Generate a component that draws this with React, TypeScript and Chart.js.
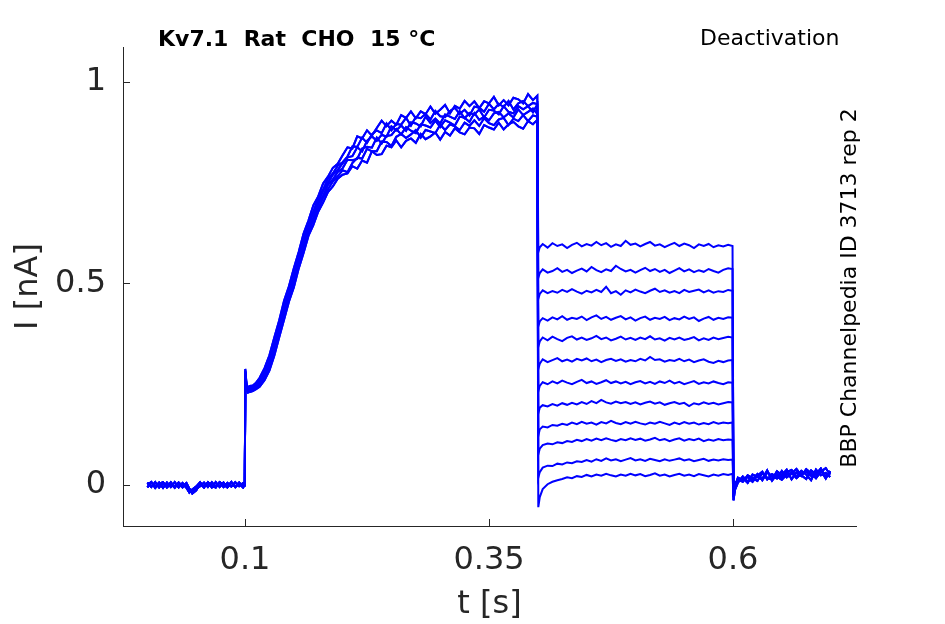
import { useEffect, useRef } from 'react';
import Chart from 'chart.js/auto';

// holding baseline, 0 .. 0.1 s (three noise variants)
const baseT = [0, 0.004, 0.008, 0.012, 0.016, 0.02, 0.024, 0.028, 0.032, 0.036, 0.04, 0.043, 0.046, 0.05, 0.054, 0.058, 0.062, 0.066, 0.07, 0.074, 0.078, 0.082, 0.086, 0.09, 0.094, 0.098, 0.0998];
const baseA = [0.006, -0.005, 0.007, -0.006, 0.005, -0.004, 0.007, -0.005, 0.004, -0.006, 0.002, -0.013, -0.017, -0.009, -0.003, 0.006, -0.005, 0.007, -0.004, 0.006, -0.005, 0.005, -0.004, 0.007, -0.003, 0.005, 0.001];
const baseB = [-0.006, 0.007, -0.004, 0.006, -0.007, 0.006, -0.005, 0.007, -0.006, 0.005, -0.007, -0.019, -0.011, -0.004, 0.007, -0.005, 0.006, -0.006, 0.007, -0.005, 0.006, -0.006, 0.007, -0.005, 0.006, -0.005, -0.001];
const baseC = [0.002, 0.007, -0.007, 0.003, 0.007, -0.006, 0.003, -0.007, 0.006, -0.003, 0.005, -0.009, -0.021, -0.013, 0.003, -0.006, 0.007, -0.002, -0.006, 0.007, 0.001, -0.006, 0.007, -0.005, 0.003, -0.006, 0.002];

// activation step, 0.1 .. 0.4 s (six variants, high to low plateau)
const actT = [
  0.1003, 0.1015, 0.103, 0.105, 0.108, 0.111, 0.115, 0.12, 0.125, 0.13, 0.135, 0.14, 0.145, 0.15, 0.155, 0.16, 0.165, 0.17, 0.175, 0.18, 0.185, 0.19, 0.195, 0.2,
  0.205, 0.21, 0.215, 0.22, 0.225, 0.23, 0.235, 0.24, 0.245, 0.25, 0.255, 0.26, 0.265, 0.27, 0.275, 0.28, 0.285, 0.29, 0.295, 0.3,
  0.305, 0.31, 0.315, 0.32, 0.325, 0.33, 0.335, 0.34, 0.345, 0.35, 0.355, 0.36, 0.365, 0.37, 0.375, 0.38, 0.385, 0.39, 0.395, 0.3995,
];
const act1 = [
  0.288, 0.252, 0.242, 0.246, 0.247, 0.253, 0.266, 0.29, 0.322, 0.366, 0.408, 0.457, 0.493, 0.538, 0.578, 0.624, 0.656, 0.694, 0.716, 0.748, 0.765, 0.787, 0.797, 0.818,
  0.838, 0.835, 0.865, 0.86, 0.88, 0.867, 0.886, 0.904, 0.89, 0.904, 0.894, 0.918, 0.911, 0.927, 0.91, 0.927, 0.92, 0.939, 0.921, 0.931,
  0.943, 0.922, 0.941, 0.934, 0.953, 0.94, 0.952, 0.935, 0.952, 0.947, 0.963, 0.942, 0.955, 0.942, 0.961, 0.957, 0.947, 0.97, 0.955, 0.966,
];
const act2 = [
  0.284, 0.25, 0.238, 0.242, 0.245, 0.249, 0.26, 0.283, 0.314, 0.354, 0.402, 0.444, 0.487, 0.524, 0.572, 0.609, 0.652, 0.678, 0.712, 0.733, 0.76, 0.773, 0.792, 0.801,
  0.815, 0.84, 0.839, 0.862, 0.849, 0.87, 0.88, 0.873, 0.897, 0.88, 0.896, 0.894, 0.911, 0.892, 0.913, 0.91, 0.921, 0.907, 0.928, 0.915,
  0.913, 0.928, 0.936, 0.921, 0.931, 0.917, 0.939, 0.936, 0.926, 0.946, 0.932, 0.946, 0.938, 0.953, 0.932, 0.947, 0.953, 0.94, 0.948, 0.945,
];
const act3 = [
  0.281, 0.246, 0.236, 0.239, 0.242, 0.246, 0.257, 0.277, 0.308, 0.348, 0.393, 0.439, 0.477, 0.519, 0.562, 0.604, 0.642, 0.675, 0.702, 0.73, 0.75, 0.77, 0.782, 0.798,
  0.813, 0.816, 0.838, 0.828, 0.854, 0.865, 0.854, 0.869, 0.864, 0.89, 0.88, 0.892, 0.879, 0.9, 0.897, 0.89, 0.914, 0.898, 0.909, 0.897,
  0.919, 0.914, 0.908, 0.927, 0.91, 0.923, 0.919, 0.932, 0.912, 0.931, 0.929, 0.92, 0.94, 0.926, 0.922, 0.94, 0.932, 0.94, 0.925, 0.944,
];
const act4 = [
  0.279, 0.243, 0.234, 0.236, 0.238, 0.243, 0.252, 0.27, 0.3, 0.338, 0.386, 0.428, 0.471, 0.508, 0.556, 0.594, 0.636, 0.663, 0.697, 0.718, 0.745, 0.758, 0.777, 0.786,
  0.807, 0.806, 0.809, 0.835, 0.839, 0.837, 0.862, 0.847, 0.866, 0.868, 0.883, 0.87, 0.888, 0.879, 0.873, 0.895, 0.892, 0.887, 0.904, 0.888,
  0.905, 0.899, 0.892, 0.914, 0.911, 0.901, 0.923, 0.906, 0.914, 0.905, 0.922, 0.926, 0.912, 0.922, 0.912, 0.932, 0.918, 0.926, 0.934, 0.921,
];
const act5 = [
  0.277, 0.241, 0.232, 0.234, 0.236, 0.24, 0.248, 0.265, 0.292, 0.33, 0.376, 0.42, 0.463, 0.5, 0.546, 0.586, 0.626, 0.657, 0.686, 0.713, 0.734, 0.753, 0.766, 0.781,
  0.776, 0.799, 0.812, 0.81, 0.834, 0.828, 0.828, 0.852, 0.851, 0.841, 0.864, 0.871, 0.861, 0.87, 0.881, 0.862, 0.881, 0.877, 0.873, 0.894,
  0.881, 0.895, 0.89, 0.881, 0.899, 0.891, 0.905, 0.891, 0.91, 0.898, 0.893, 0.907, 0.911, 0.893, 0.909, 0.903, 0.918, 0.903, 0.917, 0.914,
];
const act6 = [
  0.275, 0.238, 0.229, 0.231, 0.233, 0.237, 0.244, 0.26, 0.284, 0.321, 0.366, 0.41, 0.455, 0.49, 0.537, 0.576, 0.618, 0.645, 0.678, 0.701, 0.727, 0.741, 0.76, 0.77,
  0.773, 0.791, 0.785, 0.805, 0.8, 0.828, 0.819, 0.821, 0.842, 0.838, 0.855, 0.838, 0.854, 0.86, 0.849, 0.871, 0.858, 0.865, 0.875, 0.857,
  0.876, 0.867, 0.885, 0.875, 0.87, 0.887, 0.885, 0.871, 0.893, 0.887, 0.882, 0.899, 0.882, 0.895, 0.901, 0.89, 0.884, 0.903, 0.895, 0.906,
];

// deactivation tails, 0.4 .. 0.6 s, top trace first
const tailT = [
  0.4005, 0.402, 0.405, 0.41, 0.415, 0.42, 0.425, 0.43, 0.435, 0.44, 0.445, 0.45, 0.455, 0.46, 0.465, 0.47, 0.475, 0.48, 0.485, 0.49, 0.495,
  0.5, 0.505, 0.51, 0.515, 0.52, 0.525, 0.53, 0.535, 0.54, 0.545, 0.55, 0.555, 0.56, 0.565, 0.57, 0.575, 0.58, 0.585, 0.59, 0.595, 0.5995,
];
const tail1 = [0.578, 0.59, 0.598, 0.589, 0.6, 0.593, 0.597, 0.588, 0.596, 0.601, 0.592, 0.598, 0.594, 0.603, 0.595, 0.6, 0.591, 0.597, 0.593, 0.606, 0.596, 0.599, 0.592, 0.598, 0.603, 0.594, 0.597, 0.59, 0.596, 0.601, 0.593, 0.599, 0.595, 0.588, 0.597, 0.593, 0.598, 0.59, 0.595, 0.592, 0.596, 0.593];
const tail2 = [0.514, 0.526, 0.535, 0.527, 0.531, 0.538, 0.529, 0.534, 0.526, 0.532, 0.537, 0.53, 0.541, 0.533, 0.528, 0.535, 0.531, 0.544, 0.536, 0.53, 0.534, 0.527, 0.533, 0.539, 0.531, 0.536, 0.529, 0.534, 0.526, 0.532, 0.538, 0.53, 0.535, 0.528, 0.533, 0.529, 0.536, 0.531, 0.527, 0.534, 0.538, 0.536];
const tail3 = [0.462, 0.474, 0.483, 0.476, 0.481, 0.477, 0.484, 0.479, 0.486, 0.48, 0.475, 0.482, 0.478, 0.484, 0.479, 0.492, 0.476, 0.481, 0.472, 0.483, 0.478, 0.485, 0.48, 0.476, 0.482, 0.487, 0.479, 0.483, 0.477, 0.481, 0.476, 0.484, 0.479, 0.482, 0.485, 0.478, 0.483, 0.477, 0.481, 0.479, 0.484, 0.482];
const tail4 = [0.394, 0.406, 0.414, 0.408, 0.416, 0.411, 0.419, 0.41, 0.415, 0.412, 0.418, 0.409, 0.416, 0.421, 0.412, 0.417, 0.41, 0.415, 0.419, 0.411, 0.416, 0.408, 0.414, 0.418, 0.41, 0.415, 0.412, 0.417, 0.409, 0.414, 0.411, 0.418, 0.412, 0.416, 0.407, 0.413, 0.417, 0.41, 0.415, 0.412, 0.416, 0.415];
const tail5 = [0.343, 0.356, 0.366, 0.359, 0.368, 0.362, 0.357, 0.365, 0.369, 0.361, 0.366, 0.36, 0.364, 0.37, 0.362, 0.366, 0.359, 0.363, 0.368, 0.361, 0.365, 0.36, 0.366, 0.362, 0.369, 0.361, 0.364, 0.358, 0.365, 0.361, 0.366, 0.36, 0.363, 0.367, 0.359, 0.364, 0.36, 0.366, 0.362, 0.365, 0.368, 0.366];
const tail6 = [0.288, 0.301, 0.312, 0.305, 0.31, 0.315, 0.307, 0.311, 0.306, 0.313, 0.309, 0.314, 0.307, 0.311, 0.305, 0.31, 0.313, 0.308, 0.312, 0.306, 0.31, 0.307, 0.313, 0.309, 0.318, 0.31, 0.312, 0.306, 0.31, 0.308, 0.313, 0.307, 0.311, 0.305, 0.309, 0.312, 0.306, 0.303, 0.308, 0.305, 0.309, 0.31];
const tail7 = [0.232, 0.246, 0.255, 0.25, 0.257, 0.252, 0.259, 0.254, 0.25, 0.256, 0.261, 0.253, 0.257, 0.251, 0.255, 0.26, 0.253, 0.257, 0.252, 0.256, 0.25, 0.255, 0.258, 0.252, 0.256, 0.251, 0.257, 0.253, 0.259, 0.252, 0.256, 0.25, 0.254, 0.258, 0.251, 0.255, 0.252, 0.257, 0.253, 0.25, 0.255, 0.254];
const tail8 = [0.178, 0.192, 0.198, 0.195, 0.201, 0.197, 0.203, 0.199, 0.204, 0.2, 0.206, 0.201, 0.208, 0.203, 0.211, 0.205, 0.202, 0.207, 0.203, 0.206, 0.201, 0.205, 0.2, 0.204, 0.207, 0.202, 0.205, 0.199, 0.203, 0.206, 0.201, 0.204, 0.196, 0.203, 0.2, 0.205, 0.201, 0.204, 0.2, 0.203, 0.206, 0.205];
const tail9 = [0.122, 0.138, 0.145, 0.143, 0.149, 0.147, 0.152, 0.149, 0.155, 0.151, 0.157, 0.152, 0.155, 0.15, 0.156, 0.153, 0.159, 0.154, 0.151, 0.156, 0.152, 0.157, 0.153, 0.15, 0.155, 0.152, 0.157, 0.153, 0.149, 0.155, 0.151, 0.156, 0.152, 0.155, 0.15, 0.154, 0.151, 0.156, 0.152, 0.155, 0.153, 0.155];
const tail10 = [0.076, 0.09, 0.099, 0.103, 0.101, 0.106, 0.104, 0.109, 0.107, 0.112, 0.109, 0.114, 0.11, 0.115, 0.111, 0.116, 0.112, 0.109, 0.114, 0.111, 0.116, 0.112, 0.115, 0.11, 0.113, 0.117, 0.111, 0.114, 0.109, 0.113, 0.116, 0.11, 0.114, 0.111, 0.115, 0.109, 0.113, 0.11, 0.114, 0.111, 0.113, 0.112];
const tail11 = [0.018, 0.032, 0.043, 0.048, 0.047, 0.053, 0.051, 0.056, 0.054, 0.059, 0.057, 0.062, 0.058, 0.064, 0.06, 0.066, 0.061, 0.064, 0.059, 0.063, 0.067, 0.061, 0.064, 0.06, 0.065, 0.062, 0.059, 0.064, 0.06, 0.063, 0.066, 0.061, 0.064, 0.059, 0.062, 0.065, 0.06, 0.063, 0.061, 0.064, 0.062, 0.063];
const tail12 = [-0.055, -0.03, -0.01, 0.002, 0.008, 0.012, 0.015, 0.019, 0.017, 0.022, 0.02, 0.025, 0.021, 0.026, 0.023, 0.028, 0.024, 0.021, 0.026, 0.023, 0.028, 0.024, 0.027, 0.022, 0.025, 0.029, 0.023, 0.026, 0.021, 0.025, 0.028, 0.023, 0.026, 0.022, 0.027, 0.024, 0.021, 0.026, 0.023, 0.027, 0.025, 0.028];

// after the test pulse, 0.6 .. 0.7 s (four variants)
const postT = [0.6005, 0.602, 0.605, 0.61, 0.615, 0.62, 0.625, 0.63, 0.635, 0.64, 0.645, 0.65, 0.655, 0.66, 0.665, 0.67, 0.675, 0.68, 0.685, 0.69, 0.695, 0.6995];
const postA = [-0.038, -0.012, 0.006, 0.021, 0.009, 0.014, 0.027, 0.012, 0.031, 0.022, 0.016, 0.035, 0.019, 0.028, 0.04, 0.024, 0.015, 0.036, 0.027, 0.041, 0.02, 0.033];
const postB = [-0.025, 0, 0.014, 0.008, 0.024, 0.017, 0.01, 0.029, 0.018, 0.013, 0.034, 0.025, 0.038, 0.014, 0.031, 0.022, 0.039, 0.029, 0.017, 0.033, 0.042, 0.026];
const postC = [-0.015, 0.006, 0.011, 0.017, 0.005, 0.026, 0.02, 0.015, 0.036, 0.011, 0.027, 0.019, 0.032, 0.037, 0.02, 0.035, 0.026, 0.012, 0.038, 0.024, 0.03, 0.02];
const postD = [-0.03, -0.004, 0.018, 0.012, 0.02, 0.008, 0.023, 0.033, 0.014, 0.027, 0.021, 0.013, 0.026, 0.03, 0.017, 0.028, 0.034, 0.023, 0.021, 0.036, 0.016, 0.035];

const xTicks = [0.1, 0.35, 0.6];
const yTicks = [0, 0.5, 1];

const title = 'Kv7.1  Rat  CHO  15 °C';
const protocol = 'Deactivation';
const sourceLabel = 'BBP Channelpedia ID 3713 rep 2';

const bases = [baseA, baseB, baseC];
const acts = [act1, act2, act3, act4, act5, act6];
const tails = [tail1, tail2, tail3, tail4, tail5, tail6, tail7, tail8, tail9, tail10, tail11, tail12];
const posts = [postA, postB, postC, postD];

const FONT = "'DejaVu Sans', sans-serif";
const AXIS = '#262626';

function zipPoints(ts: number[], vs: number[]) {
  return ts.map((t, i) => ({ x: t, y: vs[i] }));
}

const textPlugin = {
  id: 'sweepText',
  afterDraw(chart: Chart) {
    const { ctx, scales } = chart;
    const x = scales.x;
    const y = scales.y;
    ctx.save();
    // inward tick marks
    ctx.strokeStyle = AXIS;
    ctx.lineWidth = 1;
    ctx.beginPath();
    xTicks.forEach((v) => {
      const px = Math.round(x.getPixelForValue(v)) + 0.5;
      ctx.moveTo(px, y.bottom);
      ctx.lineTo(px, y.bottom - 7);
    });
    yTicks.forEach((v) => {
      const py = Math.round(y.getPixelForValue(v)) + 0.5;
      ctx.moveTo(x.left, py);
      ctx.lineTo(x.left + 7, py);
    });
    ctx.stroke();

    ctx.fillStyle = '#000';
    ctx.textBaseline = 'middle';
    ctx.textAlign = 'left';
    ctx.font = `bold 22px ${FONT}`;
    ctx.fillText(title, 158, 40);
    ctx.font = `22px ${FONT}`;
    ctx.fillText(protocol, 700, 39);

    ctx.translate(850, 288);
    ctx.rotate(-Math.PI / 2);
    ctx.textAlign = 'center';
    ctx.fillText(sourceLabel, 0, 0);
    ctx.restore();
  },
};

export default function App() {
  const canvasRef = useRef<HTMLCanvasElement | null>(null);

  useEffect(() => {
    const canvas = canvasRef.current;
    if (!canvas) return;

    const datasets = tails.map((tail, i) => ({
      data: [
        ...zipPoints(baseT, bases[i % 3]),
        ...zipPoints(actT, acts[i % 6]),
        ...zipPoints(tailT, tail),
        ...zipPoints(postT, posts[i % 4]),
      ],
      borderColor: '#0000ff',
      borderWidth: 2,
      pointRadius: 0,
      fill: false,
      tension: 0,
    }));

    const tickFont = { family: FONT, size: 32 };

    const chart = new Chart(canvas, {
      type: 'line',
      data: { datasets },
      options: {
        animation: false,
        responsive: true,
        maintainAspectRatio: false,
        layout: { padding: { top: 47, right: 89, left: 0, bottom: 0 } },
        plugins: {
          legend: { display: false },
          tooltip: { enabled: false },
        },
        scales: {
          x: {
            type: 'linear',
            min: -0.025,
            max: 0.726,
            afterBuildTicks: (s) => {
              s.ticks = xTicks.map((v) => ({ value: v }));
            },
            afterFit: (s) => {
              s.height = 98;
            },
            grid: { display: false, drawTicks: false },
            border: { display: true, color: AXIS, width: 1 },
            ticks: {
              font: tickFont,
              color: AXIS,
              padding: 15,
              maxRotation: 0,
              autoSkip: false,
              callback: (v) => String(v),
            },
            title: {
              display: true,
              text: 't [s]',
              font: tickFont,
              color: AXIS,
              padding: { top: 0, bottom: 0 },
            },
          },
          y: {
            type: 'linear',
            min: -0.1017,
            max: 1.0868,
            afterBuildTicks: (s) => {
              s.ticks = yTicks.map((v) => ({ value: v }));
            },
            afterFit: (s) => {
              s.width = 123;
            },
            grid: { display: false, drawTicks: false },
            border: { display: true, color: AXIS, width: 1 },
            ticks: {
              font: tickFont,
              color: AXIS,
              padding: 17,
              autoSkip: false,
              callback: (v) => String(v),
            },
            title: {
              display: true,
              text: 'I [nA]',
              font: tickFont,
              color: AXIS,
              padding: { top: 9, bottom: 0 },
            },
          },
        },
      },
      plugins: [textPlugin],
    });

    return () => {
      chart.destroy();
    };
  }, []);

  return (
    <div style={{ position: 'fixed', left: 0, top: 0, width: 945, height: 624, background: '#fff' }}>
      <canvas ref={canvasRef} />
    </div>
  );
}
